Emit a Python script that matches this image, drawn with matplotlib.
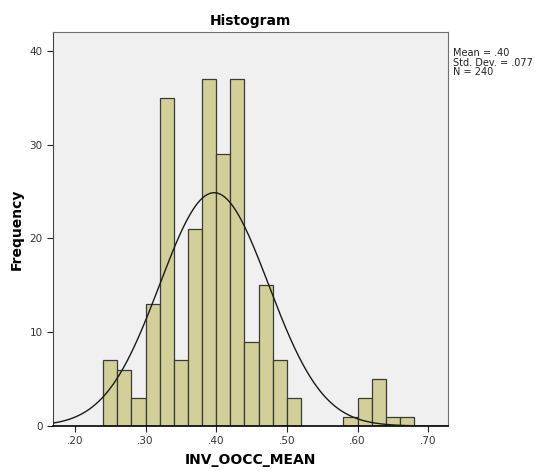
import matplotlib
matplotlib.use('Agg')
import matplotlib.pyplot as plt
import numpy as np

# histogram bins (left edge) and frequencies
bin_left = [0.24, 0.26, 0.28, 0.30, 0.32, 0.34, 0.36, 0.38, 0.40, 0.42, 0.44,
            0.46, 0.48, 0.50, 0.58, 0.60, 0.62, 0.64, 0.66]
counts = [7, 6, 3, 13, 35, 7, 21, 37, 29, 37, 9, 15, 7, 3, 1, 3, 5, 1, 1]
bin_width = 0.02

mean = 0.397
std = 0.077
n = 240

x_ticks = [0.20, 0.30, 0.40, 0.50, 0.60, 0.70]
x_labels = ['.20', '.30', '.40', '.50', '.60', '.70']
y_ticks = [0, 10, 20, 30, 40]

fig = plt.figure(figsize=(5.37, 4.71), dpi=100)
ax = fig.add_axes([53/537, 1 - 426/471, (448 - 53)/537, (426 - 32)/471])
ax.set_facecolor('#f0f0f0')

ax.bar(bin_left, counts, width=bin_width, align='edge', color='#d3cf98',
       edgecolor='#3a3a3a', linewidth=0.9, zorder=2)

xs = np.linspace(0.169, 0.728, 400)
ys = n * bin_width / (std * np.sqrt(2 * np.pi)) * np.exp(-0.5 * ((xs - mean) / std) ** 2)
ax.plot(xs, ys, color='#1a1a1a', linewidth=1.0, zorder=3)

ax.set_xlim(0.169, 0.728)
ax.set_ylim(0, 42)
ax.set_xticks(x_ticks)
ax.set_xticklabels(x_labels)
ax.set_yticks(y_ticks)
ax.tick_params(axis='both', labelsize=7.5, labelcolor='#333333', colors='#222222',
               length=4, width=0.8)

for side in ['top', 'right']:
    ax.spines[side].set_color('#707070')
    ax.spines[side].set_linewidth(0.8)
ax.spines['left'].set_color('#444444')
ax.spines['bottom'].set_color('#000000')
ax.spines['bottom'].set_linewidth(1.2)

ax.set_title('Histogram', fontsize=10, fontweight='bold', pad=5)
ax.set_xlabel('INV_OOCC_MEAN', fontsize=10, fontweight='bold', labelpad=5)
ax.set_ylabel('Frequency', fontsize=10, fontweight='bold', labelpad=4)

fig.text(453/537, 1 - 48/471, 'Mean = .40\nStd. Dev. = .077\nN = 240',
         fontsize=7, va='top', ha='left', color='#222222', linespacing=0.95)

fig.savefig('out.png', dpi=100)
